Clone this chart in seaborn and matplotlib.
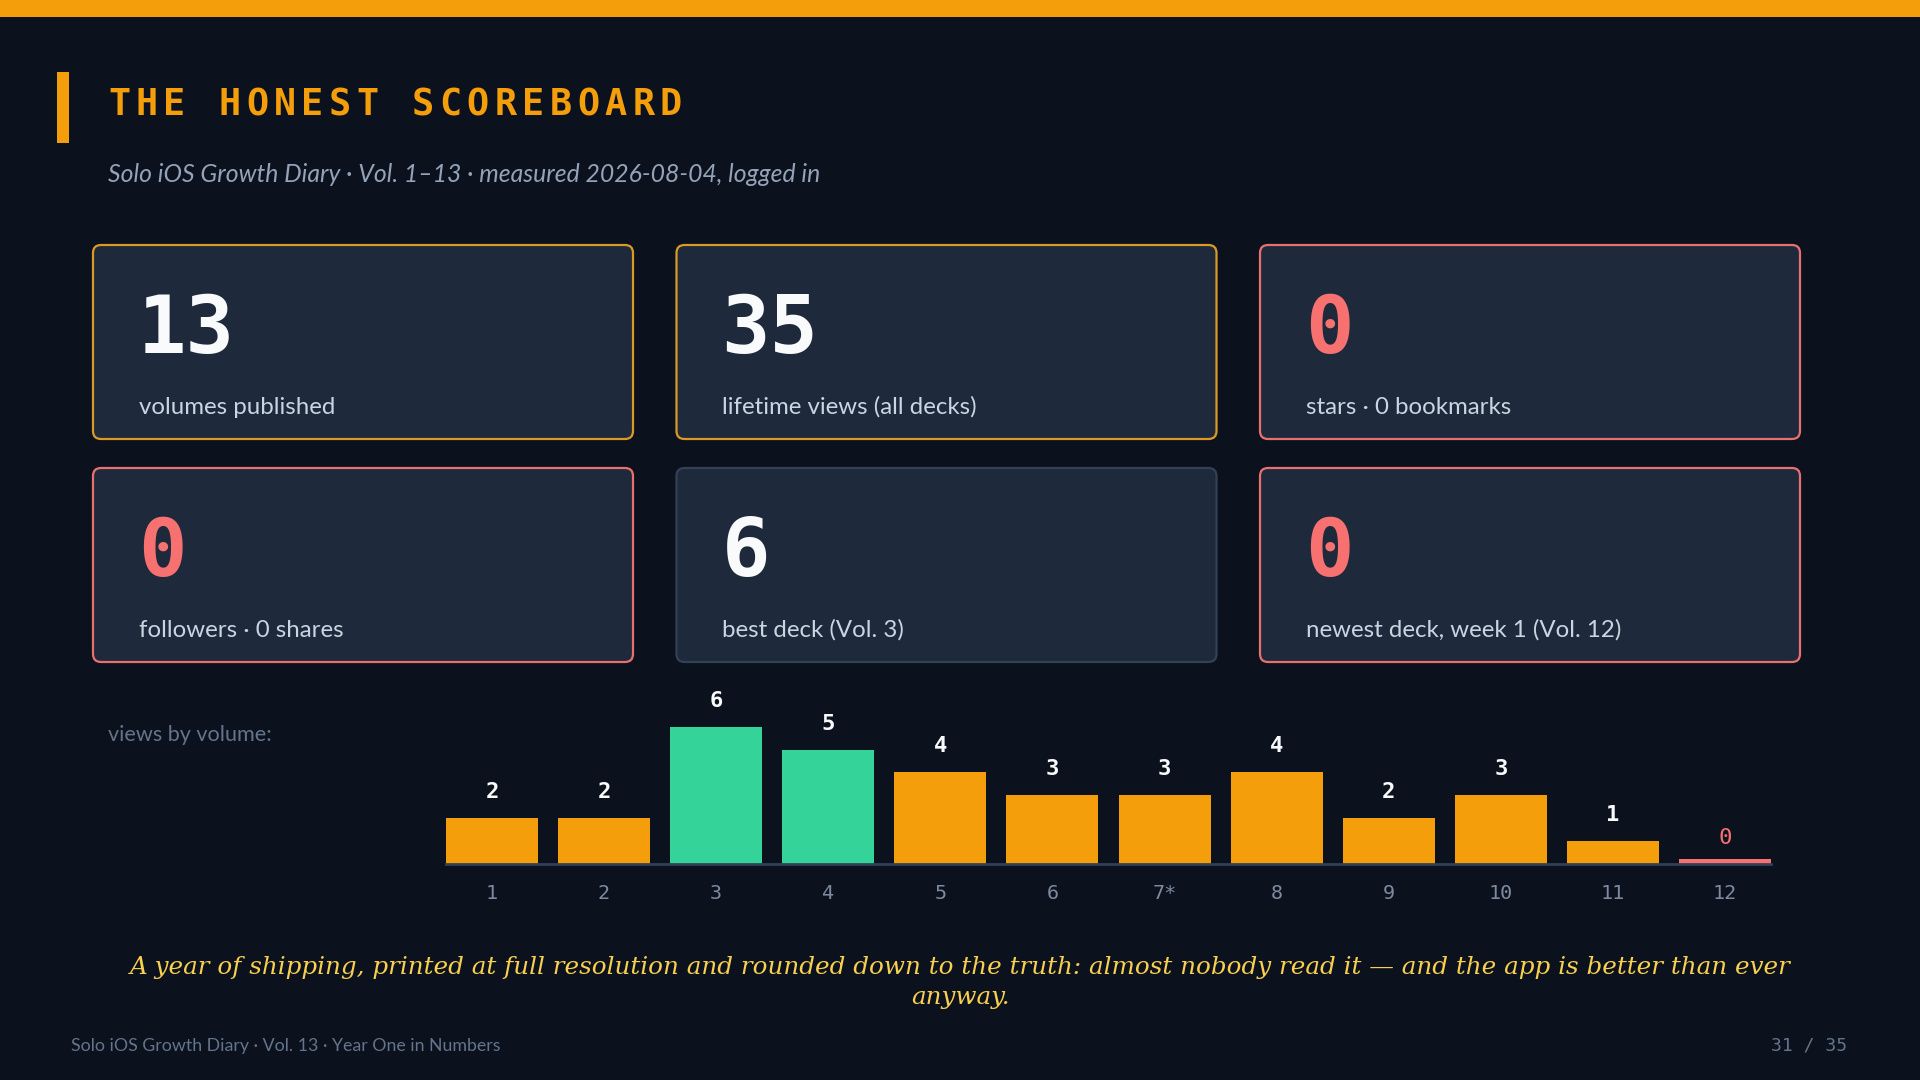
import numpy as np
import pandas as pd
import seaborn as sns
import matplotlib.pyplot as plt
from matplotlib.patches import FancyBboxPatch, Rectangle

# ---- data ----
vols = ["1", "2", "3", "4", "5", "6", "7*", "8", "9", "10", "11", "12"]
views = [2, 2, 6, 5, 4, 3, 3, 4, 2, 3, 1, 0]

card_values = ["13", "35", "0", "0", "6", "0"]
card_labels = ["volumes published", "lifetime views (all decks)", "stars · 0 bookmarks",
               "followers · 0 shares", "best deck (Vol. 3)", "newest deck, week 1 (Vol. 12)"]
card_tone = ["gold", "gold", "bad", "bad", "plain", "bad"]

title = "THE HONEST SCOREBOARD"
subtitle = "Solo iOS Growth Diary · Vol. 1–13 · measured 2026-08-04, logged in"
quote = ("A year of shipping, printed at full resolution and rounded down to the truth: "
         "almost nobody read it — and the app is better than ever\nanyway.")
footer_left = "Solo iOS Growth Diary · Vol. 13 · Year One in Numbers"
footer_right = "31 / 35"

# ---- colours ----
BG = "#0b111d"
CARD = "#1e293b"
ORANGE = "#f59e0b"
GREEN = "#34d399"
RED = "#f87171"
WHITE = "#f8fafc"
MUTED = "#94a3b8"
DIM = "#64748b"
border = {"gold": "#d99a26", "bad": "#e8706f", "plain": "#334155"}
num_color = {"gold": WHITE, "bad": RED, "plain": WHITE}

MONO = "DejaVu Sans Mono"
SANS = "Lato"

fig = plt.figure(figsize=(19.2, 10.8), dpi=100, facecolor=BG)

# overlay in pixel coordinates for the slide furniture
bg = fig.add_axes([0, 0, 1, 1])
bg.set_xlim(0, 1920)
bg.set_ylim(1080, 0)
bg.axis("off")

bg.add_patch(Rectangle((0, 0), 1920, 17, color=ORANGE, lw=0))
bg.add_patch(Rectangle((57, 72), 12, 71, color=ORANGE, lw=0))

for i, ch in enumerate(title):
    bg.text(108 + i * 27.6, 115, ch, fontsize=26.5, fontweight="bold",
            family=MONO, color=ORANGE, va="baseline", ha="left")

bg.text(108, 174, subtitle, fontsize=17.8, style="italic", family=SANS,
        color=MUTED, va="center", ha="left")

# stat cards
card_w, card_h = 540, 194
col_x = [93, 676.5, 1260]
row_y = [245, 468]
for k in range(6):
    x0 = col_x[k % 3]
    y0 = row_y[k // 3]
    tone = card_tone[k]
    bg.add_patch(FancyBboxPatch((x0, y0), card_w, card_h,
                                boxstyle="round,pad=0,rounding_size=8",
                                fc=CARD, ec=border[tone], lw=1.6))
    bg.text(x0 + 45, y0 + 108, card_values[k], fontsize=58, fontweight="bold",
            family=MONO, color=num_color[tone], va="baseline", ha="left")
    bg.text(x0 + 46, y0 + 169, card_labels[k], fontsize=17.3, family=SANS,
            color="#cbd5e1", va="baseline", ha="left")

bg.text(108, 735, "views by volume:", fontsize=15.6, family=SANS,
        color=DIM, va="center", ha="left")

bg.text(960, 982.5, quote, fontsize=17.75, style="italic", family="DejaVu Serif",
        color="#f9cf4f", va="center", ha="center", linespacing=1.38)

bg.text(71, 1046, footer_left, fontsize=12.8, family=SANS, color=DIM,
        va="center", ha="left")
bg.text(1847, 1046, footer_right, fontsize=13, family=MONO, color=DIM,
        va="center", ha="right")

# ---- bar chart ----
df = pd.DataFrame({"vol": vols, "views": views})
top_two = sorted(views, reverse=True)[:2]
df["tier"] = np.where(df["views"] == 0, "zero",
                      np.where(df["views"] >= min(top_two), "top", "normal"))
df["shown"] = np.maximum(df["views"], 0.2)   # zero gets a visible stub
tier_colors = {"normal": ORANGE, "top": GREEN, "zero": RED}

ax = fig.add_axes([446 / 1920, (1080 - 863.5) / 1080, 1325 / 1920, 171 / 1080])
ax.set_facecolor("none")
sns.barplot(data=df, x="vol", y="shown", hue="tier", order=vols,
            palette=tier_colors, width=0.82, dodge=False, saturation=1,
            legend=False, linewidth=0, ax=ax)
ax.set_xlim(-0.41, 11.41)
ax.set_ylim(0, 7.5)

for i, v in enumerate(df["views"]):
    ax.text(i, v + 1.14, str(v), ha="center", va="center", family=MONO,
            fontsize=16, fontweight="bold" if v > 0 else "normal",
            color=WHITE if v > 0 else RED, clip_on=False)

for side in ["top", "left", "right"]:
    ax.spines[side].set_visible(False)
ax.spines["bottom"].set_color("#334155")
ax.spines["bottom"].set_linewidth(2)
ax.set_yticks([])
ax.set_xlabel("")
ax.set_ylabel("")
ax.tick_params(axis="x", length=0, pad=14.5, labelsize=14.5, labelcolor="#7d8aa0")
for lbl in ax.get_xticklabels():
    lbl.set_fontfamily(MONO)

fig.savefig("out.png", dpi=100, facecolor=BG)
